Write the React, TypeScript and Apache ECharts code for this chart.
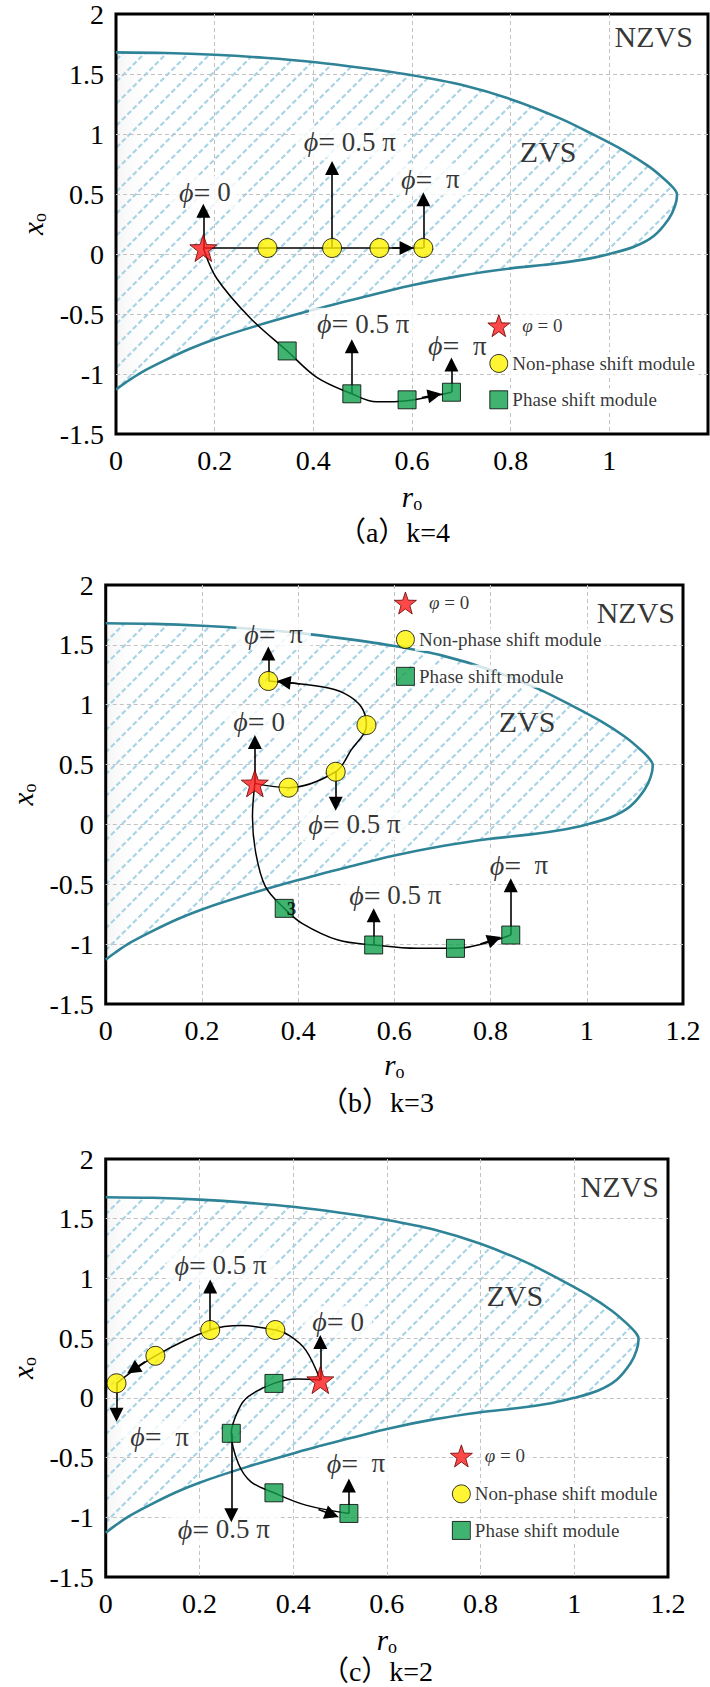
import React, { useEffect, useRef } from 'react';
import * as echarts from 'echarts';

const FONT = 'Liberation Serif, Times New Roman, Times, serif';
const TITLE_FONT = 'Liberation Serif, Noto Sans CJK SC, serif';

// axis ranges
const X_MIN = 0, X_MAX = 1.2, X_STEP = 0.2;
const Y_MIN = -1.5, Y_MAX = 2, Y_STEP = 0.5;

// ZVS / NZVS boundary (r_o, x_o)
const boundary: number[][] = [
  [0, 1.68], [0.1, 1.675], [0.2, 1.66], [0.3, 1.635], [0.4, 1.6], [0.5, 1.55], [0.6, 1.49],
  [0.7, 1.41], [0.8, 1.29], [0.9, 1.13], [0.97, 0.99], [1.03, 0.86], [1.08, 0.73], [1.11, 0.63],
  [1.13, 0.55], [1.137, 0.5], [1.133, 0.4], [1.12, 0.29], [1.09, 0.15], [1.05, 0.06], [1.0, 0.0],
  [0.95, -0.045], [0.88, -0.085], [0.8, -0.12], [0.7, -0.18], [0.6, -0.26], [0.5, -0.36],
  [0.4, -0.465], [0.3, -0.58], [0.2, -0.71], [0.15, -0.79], [0.1, -0.885], [0.05, -0.99],
  [0.02, -1.07], [0, -1.13],
];

// ---------- panel (a) k=4 ----------
const aStar = [[0.177, 0.05]];
const aCircles = [[0.307, 0.05], [0.438, 0.05], [0.534, 0.05], [0.623, 0.05]];
const aSquares = [[0.347, -0.808], [0.478, -1.165], [0.59, -1.215], [0.68, -1.152]];
const aCirclePath = [[0.177, 0.05], [0.307, 0.05], [0.438, 0.05], [0.534, 0.05], [0.623, 0.05]];
const aSquarePath = [[0.177, 0.05], [0.204, -0.202], [0.272, -0.533], [0.347, -0.808], [0.407, -1.028], [0.478, -1.165], [0.528, -1.232], [0.59, -1.222], [0.68, -1.152]];
const aArrows = [
  [[0.177, 0.05], [0.177, 0.36]],
  [[0.438, 0.05], [0.438, 0.717]],
  [[0.623, 0.05], [0.623, 0.456]],
  [[0.478, -1.165], [0.478, -0.769]],
  [[0.68, -1.152], [0.68, -0.921]],
  [[0.56, 0.05], [0.589, 0.05]],
  [[0.62, -1.196], [0.646, -1.176]],
];
const aPhaseLabels: any[] = [[0.18, 0.514, '0'], [0.474, 0.935, '0.5 π'], [0.637, 0.621, ' π'], [0.501, -0.582, '0.5 π'], [0.692, -0.765, ' π']];
const aRegionLabels: any[] = [[1.09, 1.81, 'NZVS'], [0.876, 0.853, 'ZVS']];
const aLegend = [[0.776, -0.597], [0.776, -0.912], [0.776, -1.215]];
const aStray: any[] = [];

// ---------- panel (b) k=3 ----------
const bStar = [[0.31, 0.343]];
const bCircles = [[0.38, 0.307], [0.478, 0.44], [0.542, 0.83], [0.338, 1.198]];
const bSquares = [[0.371, -0.701], [0.557, -1.007], [0.727, -1.035], [0.842, -0.924]];
const bCirclePath = [[0.31, 0.343], [0.38, 0.307], [0.478, 0.44], [0.51, 0.62], [0.542, 0.83], [0.531, 0.983], [0.496, 1.095], [0.449, 1.15], [0.338, 1.198]];
const bSquarePath = [[0.31, 0.343], [0.305, 0.064], [0.312, -0.241], [0.332, -0.52], [0.371, -0.701], [0.408, -0.826], [0.483, -0.966], [0.557, -1.007], [0.647, -1.035], [0.727, -1.035], [0.842, -0.924]];
const bArrows = [
  [[0.31, 0.343], [0.31, 0.689]],
  [[0.478, 0.44], [0.478, 0.173]],
  [[0.338, 1.198], [0.338, 1.427]],
  [[0.557, -1.007], [0.557, -0.759]],
  [[0.842, -0.924], [0.842, -0.508]],
  [[0.404, 1.173], [0.37, 1.19]],
  [[0.779, -0.999], [0.808, -0.959]],
];
const bPhaseLabels: any[] = [[0.319, 0.858, '0'], [0.517, 0.003, '0.5 π'], [0.349, 1.59, ' π'], [0.602, -0.59, '0.5 π'], [0.859, -0.339, ' π']];
const bRegionLabels: any[] = [[1.102, 1.77, 'NZVS'], [0.876, 0.86, 'ZVS']];
const bLegend = [[0.623, 1.85], [0.623, 1.545], [0.623, 1.237]];
const bStray: any[] = [[0.386, -0.70, '3']];

// ---------- panel (c) k=2 ----------
const cStar = [[0.458, 0.149]];
const cCircles = [[0.362, 0.568], [0.223, 0.568], [0.106, 0.352], [0.023, 0.122]];
const cSquares = [[0.359, 0.121], [0.268, -0.297], [0.359, -0.795], [0.519, -0.968]];
const cCirclePath = [[0.458, 0.149], [0.427, 0.4], [0.393, 0.52], [0.362, 0.568], [0.29, 0.605], [0.223, 0.568], [0.106, 0.352], [0.023, 0.122]];
const cSquarePath = [[0.458, 0.149], [0.41, 0.158], [0.359, 0.121], [0.304, 0.01], [0.283, -0.102], [0.268, -0.297], [0.283, -0.55], [0.31, -0.703], [0.359, -0.795], [0.427, -0.898], [0.519, -0.968]];
const cArrows = [
  [[0.458, 0.149], [0.458, 0.468]],
  [[0.223, 0.568], [0.223, 0.932]],
  [[0.023, 0.122], [0.023, -0.142]],
  [[0.268, -0.297], [0.268, -0.982]],
  [[0.519, -0.968], [0.519, -0.733]],
  [[0.084, 0.303], [0.058, 0.236]],
  [[0.454, -0.935], [0.483, -0.977]],
];
const cPhaseLabels: any[] = [[0.496, 0.637, '0'], [0.245, 1.11, '0.5 π'], [0.115, -0.325, ' π'], [0.252, -1.1, '0.5 π'], [0.534, -0.549, ' π']];
const cRegionLabels: any[] = [[1.097, 1.77, 'NZVS'], [0.873, 0.855, 'ZVS']];
const cLegend = [[0.759, -0.486], [0.759, -0.804], [0.759, -1.11]];
const cStray: any[] = [];

const legendTexts = ['{i|φ}{n| = 0}', 'Non-phase shift module', 'Phase shift module'];
const titles = ['（a）k=4', '（b）k=3', '（c）k=2'];

const panels = [
  { grid: { left: 116, top: 10, width: 592, height: 424 }, showMaxX: false, yGap: 63, xGap: 47, title: titles[0], titlePos: [394, 532],
    star: aStar, circles: aCircles, squares: aSquares, circlePath: aCirclePath, squarePath: aSquarePath, arrows: aArrows,
    phase: aPhaseLabels, region: aRegionLabels, legend: aLegend, stray: aStray },
  { grid: { left: 98, top: 585, width: 585, height: 419 }, showMaxX: true, yGap: 63, xGap: 45, title: titles[1], titlePos: [377, 1102],
    star: bStar, circles: bCircles, squares: bSquares, circlePath: bCirclePath, squarePath: bSquarePath, arrows: bArrows,
    phase: bPhaseLabels, region: bRegionLabels, legend: bLegend, stray: bStray },
  { grid: { left: 86, top: 1159, width: 582, height: 418 }, showMaxX: true, yGap: 62, xGap: 47, title: titles[2], titlePos: [377, 1671],
    star: cStar, circles: cCircles, squares: cSquares, circlePath: cCirclePath, squarePath: cSquarePath, arrows: cArrows,
    phase: cPhaseLabels, region: cRegionLabels, legend: cLegend, stray: cStray },
];

const STAR = (() => {
  const pts: string[] = [];
  for (let i = 0; i < 10; i++) {
    const r = i % 2 === 0 ? 50 : 20;
    const a = -Math.PI / 2 + (i * Math.PI) / 5;
    pts.push(`${(50 + r * Math.cos(a)).toFixed(2)} ${(50 + r * Math.sin(a)).toFixed(2)}`);
  }
  return 'path://M' + pts.join(' L') + ' Z';
})();

const RED = '#ff1a1a';
const YELLOW = '#fff200';
const GREEN = '#12a04c';
const TEAL = '#2f8397';

function makeHatch() {
  const s = 22;
  const c = document.createElement('canvas');
  c.width = s;
  c.height = s;
  const ctx = c.getContext('2d')!;
  ctx.strokeStyle = '#a8d4e5';
  ctx.lineWidth = 2.2;
  const period = (s * Math.SQRT2) / 4;
  const dash = period * 0.66;
  const gap = period - dash;
  ctx.setLineDash([dash, gap]);
  ctx.lineDashOffset = dash + gap / 2;
  ctx.beginPath();
  ctx.moveTo(0, s);
  ctx.lineTo(s, 0);
  ctx.stroke();
  return { image: c.toDataURL(), repeat: 'repeat', imageWidth: s, imageHeight: s };
}

function buildSeries(i: number, p: any, pattern: any) {
  const ax = { xAxisIndex: i, yAxisIndex: i };
  const s: any[] = [];
  s.push({
    type: 'custom', ...ax, z: -1, silent: true, clip: true, data: [[0, 0]],
    renderItem: (_params: any, api: any) => {
      const first = boundary[0];
      const last = boundary[boundary.length - 1];
      const pts = [[first[0] - 0.1, first[1]], ...boundary, [last[0] - 0.1, last[1]]].map((q) => api.coord(q));
      return {
        type: 'group',
        children: [
          {
            type: 'polygon', shape: { points: pts, smooth: 0.3 },
            style: {
              fill: {
                type: 'linear', x: 0, y: 0, x2: 1, y2: 0, global: false,
                colorStops: [
                  { offset: 0, color: 'rgba(200,200,200,0.35)' },
                  { offset: 0.1, color: 'rgba(220,220,220,0.25)' },
                  { offset: 0.16, color: 'rgba(255,255,255,0)' },
                ],
              },
              stroke: 'none',
            },
          },
          { type: 'polygon', shape: { points: pts, smooth: 0.3 }, style: { fill: pattern, stroke: 'none' } },
        ],
      };
    },
  });
  s.push({
    type: 'custom', ...ax, z: 1, silent: true, clip: true, data: [[0, 0]],
    renderItem: (_params: any, api: any) => {
      const pts = boundary.map((q) => api.coord(q));
      return { type: 'polyline', shape: { points: pts, smooth: 0.3 }, style: { stroke: TEAL, lineWidth: 2.6, fill: 'none' } };
    },
  });
  const pathStyle = { color: '#000', width: 1.5 };
  s.push({ type: 'line', ...ax, z: 2, silent: true, data: p.circlePath, smooth: 0.35, symbol: 'none', lineStyle: pathStyle });
  s.push({ type: 'line', ...ax, z: 2, silent: true, data: p.squarePath, smooth: 0.35, symbol: 'none', lineStyle: pathStyle });

  const blank = { symbolSize: 1, itemStyle: { color: 'rgba(0,0,0,0)' } };
  // phase labels (white boxes) sit under the arrows
  s.push({
    type: 'scatter', ...ax, z: 3, silent: true, ...blank,
    data: p.phase.map((d: any[]) => ({ value: [d[0], d[1]], name: d[2] })),
    label: {
      show: true, position: 'inside', color: '#000', backgroundColor: '#fff', padding: [1, 8],
      formatter: (q: any) => `{i|ϕ}{e|=}{n|${q.name.startsWith(' ') ? ' ' : ''} ${q.name.trim()}}`,
      rich: {
        i: { fontFamily: FONT, fontStyle: 'italic', fontSize: 28, color: '#000' },
        e: { fontFamily: FONT, fontSize: 30, color: '#000' },
        n: { fontFamily: FONT, fontSize: 27, color: '#000' },
      },
    },
  });
  s.push({
    type: 'lines', coordinateSystem: 'cartesian2d', ...ax, z: 4, silent: true,
    symbol: ['none', 'triangle'], symbolSize: 14,
    lineStyle: { color: '#000', width: 1.6, opacity: 1, curveness: 0 },
    data: p.arrows.map((c: number[][]) => ({ coords: c })),
  });
  const border = { borderColor: '#000', borderWidth: 1 };
  s.push({ type: 'scatter', ...ax, z: 5, silent: true, symbol: 'circle', symbolSize: 19, itemStyle: { color: YELLOW, ...border }, data: p.circles });
  s.push({ type: 'scatter', ...ax, z: 5, silent: true, symbol: 'rect', symbolSize: 18, itemStyle: { color: GREEN, ...border }, data: p.squares });
  s.push({ type: 'scatter', ...ax, z: 5, silent: true, symbol: STAR, symbolSize: 27, itemStyle: { color: RED, borderColor: '#600', borderWidth: 1 }, data: p.star });

  s.push({
    type: 'scatter', ...ax, z: 6, silent: true, ...blank,
    data: p.region.map((d: any[]) => ({ value: [d[0], d[1]], name: d[2] })),
    label: { show: true, position: 'inside', color: '#000', fontFamily: FONT, fontSize: 30, formatter: (q: any) => q.name },
  });
  if (p.stray.length) {
    s.push({
      type: 'scatter', ...ax, z: 6, silent: true, ...blank,
      data: p.stray.map((d: any[]) => ({ value: [d[0], d[1]], name: d[2] })),
      label: { show: true, position: 'inside', color: '#000', fontFamily: FONT, fontSize: 19, fontWeight: 'bold', formatter: (q: any) => q.name },
    });
  }
  const legLabel = (idx: number, dist: number) => ({
    show: true, position: 'right', distance: dist, color: '#000', fontFamily: FONT, fontSize: 19,
    backgroundColor: '#fff', padding: [2, 4],
    formatter: () => legendTexts[idx],
    rich: {
      i: { fontFamily: FONT, fontStyle: 'italic', fontSize: 19, color: '#000' },
      n: { fontFamily: FONT, fontSize: 19, color: '#000' },
    },
  });
  s.push({ type: 'scatter', ...ax, z: 6, silent: true, symbol: STAR, symbolSize: 22, itemStyle: { color: RED, borderColor: '#600', borderWidth: 1 }, data: [p.legend[0]], label: legLabel(0, 8) });
  s.push({ type: 'scatter', ...ax, z: 6, silent: true, symbol: 'circle', symbolSize: 18, itemStyle: { color: YELLOW, ...border }, data: [p.legend[1]], label: legLabel(1, 0) });
  s.push({ type: 'scatter', ...ax, z: 6, silent: true, symbol: 'rect', symbolSize: 18, itemStyle: { color: GREEN, ...border }, data: [p.legend[2]], label: legLabel(2, 0) });
  return s;
}

const nameRich = {
  i: { fontFamily: FONT, fontStyle: 'italic', fontSize: 29, lineHeight: 32, color: '#000' },
  s: { fontFamily: FONT, fontSize: 18, lineHeight: 16, verticalAlign: 'bottom', color: '#000' },
};

export default function App() {
  const ref = useRef<HTMLDivElement>(null);
  useEffect(() => {
    const chart = echarts.init(ref.current!, null, { renderer: 'svg' });
    const pattern = makeHatch();
    const grid: any[] = [];
    const xAxis: any[] = [];
    const yAxis: any[] = [];
    let series: any[] = [];
    const graphic: any[] = [];
    panels.forEach((p, i) => {
      grid.push({ ...p.grid, show: true, borderColor: '#000', borderWidth: 3, backgroundColor: 'transparent', containLabel: false });
      const split = { show: true, showMinLine: false, showMaxLine: false, lineStyle: { color: '#c2c2c2', type: [4, 3], width: 1 } };
      xAxis.push({
        gridIndex: i, type: 'value', min: X_MIN, max: X_MAX, interval: X_STEP,
        axisLine: { show: false }, axisTick: { show: false }, splitLine: split,
        axisLabel: { color: '#000', fontFamily: FONT, fontSize: 28, margin: 12, showMaxLabel: p.showMaxX, showMinLabel: true },
        name: '{i|r}{s|o}', nameLocation: 'middle', nameGap: p.xGap, nameTextStyle: { rich: nameRich },
      });
      yAxis.push({
        gridIndex: i, type: 'value', min: Y_MIN, max: Y_MAX, interval: Y_STEP,
        axisLine: { show: false }, axisTick: { show: false }, splitLine: split,
        axisLabel: { color: '#000', fontFamily: FONT, fontSize: 28, margin: 12, showMaxLabel: true, showMinLabel: true },
        name: '{i|x}{s|o}', nameLocation: 'middle', nameGap: p.yGap, nameTextStyle: { rich: nameRich },
      });
      series = series.concat(buildSeries(i, p, pattern));
      graphic.push({
        type: 'text', x: p.titlePos[0], y: p.titlePos[1], silent: true,
        style: { text: p.title, fontFamily: TITLE_FONT, fontSize: 28, fill: '#000', align: 'center', verticalAlign: 'middle' },
      });
    });
    chart.setOption({ animation: false, backgroundColor: '#fff', grid, xAxis, yAxis, series, graphic });
    return () => chart.dispose();
  }, []);
  return <div ref={ref} style={{ position: 'absolute', left: 0, top: 0, width: 710, height: 1687, background: '#fff' }} />;
}
